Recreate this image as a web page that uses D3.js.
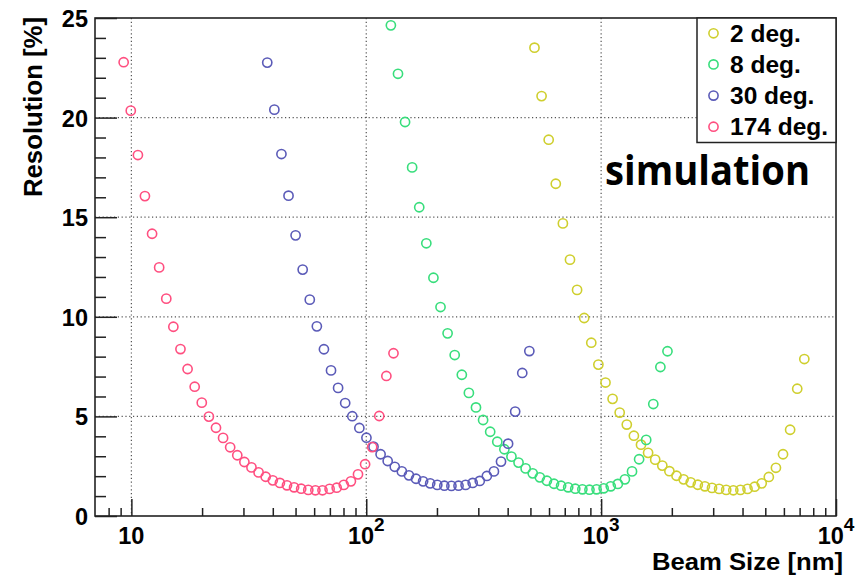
<!DOCTYPE html>
<html>
<head>
<meta charset="utf-8">
<script src="https://cdn.jsdelivr.net/npm/d3@7"></script>
<style>
  html, body { margin: 0; padding: 0; background: #fff; }
  svg { display: block; }
</style>
</head>
<body>
<svg id="chart" width="867" height="576"></svg>
<script>
// ---------------- data ----------------
const seriesNames = ["2 deg.", "8 deg.", "30 deg.", "174 deg."];
const seriesColors = ["#cfcf2e", "#38de7c", "#5b5bb8", "#ff4f80"];

const beam2 = [520.3, 557.8, 598.0, 641.1, 687.3, 736.9, 790.0, 847.0, 908.0, 973.5,
  1043.7, 1118.9, 1199.6, 1286.1, 1378.8, 1478.2, 1584.8, 1699.1, 1821.6, 1952.9,
  2093.7, 2244.6, 2406.4, 2579.9, 2765.9, 2965.3, 3179.1, 3408.4, 3654.1, 3917.6,
  4200.1, 4502.9, 4827.6, 5175.7, 5548.9, 5949.0, 6377.9, 6837.7, 7330.6];
const res2 = [23.51, 21.08, 18.89, 16.68, 14.69, 12.87, 11.35, 9.94, 8.70, 7.60,
  6.70, 5.88, 5.19, 4.59, 4.03, 3.58, 3.17, 2.83, 2.53, 2.25,
  2.02, 1.84, 1.69, 1.57, 1.49, 1.41, 1.36, 1.31, 1.29, 1.31,
  1.36, 1.47, 1.64, 1.96, 2.42, 3.10, 4.33, 6.39, 7.88];

const beam8 = [127.3, 136.5, 146.3, 156.8, 168.1, 180.2, 193.2, 207.1, 222.0, 238.0,
  255.2, 273.5, 293.2, 314.4, 337.0, 361.3, 387.3, 415.1, 445.0, 477.1,
  511.4, 548.3, 587.7, 630.0, 675.4, 724.0, 776.2, 832.1, 892.0, 956.2,
  1025.0, 1098.8, 1177.9, 1262.7, 1353.7, 1451.1, 1555.6, 1667.6, 1787.7, 1916.4];
const res8 = [24.63, 22.20, 19.78, 17.50, 15.50, 13.69, 11.96, 10.49, 9.17, 8.08,
  7.09, 6.18, 5.45, 4.82, 4.23, 3.73, 3.35, 2.98, 2.68, 2.39,
  2.14, 1.94, 1.77, 1.62, 1.52, 1.44, 1.37, 1.34, 1.32, 1.34,
  1.39, 1.49, 1.61, 1.84, 2.24, 2.85, 3.82, 5.62, 7.48, 8.27];

const beam30 = [37.89, 40.62, 43.54, 46.67, 50.02, 53.62, 57.48, 61.61, 66.04, 70.79,
  75.88, 81.34, 87.19, 93.46, 100.18, 107.38, 115.10, 123.38, 132.25, 141.76,
  151.96, 162.88, 174.60, 187.15, 200.61, 215.03, 230.49, 247.07, 264.83, 283.87,
  304.28, 326.16, 349.61, 374.75, 401.70, 430.58, 461.54, 494.73];
const res30 = [22.76, 20.40, 18.17, 16.08, 14.09, 12.37, 10.86, 9.52, 8.37, 7.31,
  6.43, 5.67, 5.01, 4.42, 3.93, 3.48, 3.10, 2.76, 2.47, 2.24,
  2.04, 1.87, 1.74, 1.64, 1.56, 1.52, 1.51, 1.52, 1.56, 1.66,
  1.76, 2.01, 2.24, 2.73, 3.63, 5.24, 7.18, 8.28];

const beam174 = [9.27, 9.94, 10.66, 11.42, 12.25, 13.13, 14.08, 15.09, 16.18, 17.35,
  18.60, 19.94, 21.38, 22.92, 24.57, 26.34, 28.24, 30.28, 32.46, 34.80,
  37.31, 40.00, 42.88, 45.97, 49.29, 52.84, 56.65, 60.74, 65.11, 69.81,
  74.84, 80.24, 86.02, 92.23, 98.88, 106.0, 113.6, 121.8, 130.6];
const res174 = [22.78, 20.35, 18.12, 16.06, 14.17, 12.48, 10.91, 9.50, 8.38, 7.38,
  6.49, 5.69, 4.99, 4.43, 3.92, 3.45, 3.05, 2.71, 2.44, 2.19,
  1.97, 1.79, 1.66, 1.54, 1.44, 1.37, 1.31, 1.29, 1.29, 1.36,
  1.42, 1.56, 1.74, 2.09, 2.60, 3.46, 5.02, 7.03, 8.17];

const xMajorTicks = [10, 100, 1000, 10000];
const xMajorBase = ["10", "10", "10", "10"];
const xMajorExp = ["", "2", "3", "4"];
const xMinorTicks = [8, 9, 20, 30, 40, 50, 60, 70, 80, 90,
  200, 300, 400, 500, 600, 700, 800, 900,
  2000, 3000, 4000, 5000, 6000, 7000, 8000, 9000];
const yMajorTicks = [0, 5, 10, 15, 20, 25];
const yMinorTicks = [1, 2, 3, 4, 6, 7, 8, 9, 11, 12, 13, 14, 16, 17, 18, 19, 21, 22, 23, 24];
const yGridTicks = [5, 10, 15, 20];
const xGridTicks = [10, 100, 1000];

const xTitle = "Beam Size [nm]";
const yTitle = "Resolution [%]";
const annotation = "simulation";

// ---------------- layout ----------------
const svg = d3.select("#chart");
const L = 95, R = 836, T = 18, B = 516;
const x = d3.scaleLog().domain([7, 10000]).range([L, R]);
const y = d3.scaleLinear().domain([0, 25]).range([B, T]);
const FONT = "'Liberation Sans', Arial, Helvetica, sans-serif";

svg.append("rect").attr("width", 867).attr("height", 576).attr("fill", "#fff");

// grid
const grid = svg.append("g").attr("stroke", "#555").attr("stroke-width", 1.2)
  .attr("stroke-dasharray", "1.2,2.6");
grid.selectAll("line.gx").data(xGridTicks).join("line")
  .attr("x1", d => x(d)).attr("x2", d => x(d)).attr("y1", T).attr("y2", B);
grid.selectAll("line.gy").data(yGridTicks).join("line")
  .attr("x1", L).attr("x2", R).attr("y1", d => y(d)).attr("y2", d => y(d));

// axes (ticks pointing inward)
function styleAxis(g) {
  g.select(".domain").remove();
  g.selectAll(".tick line").attr("stroke", "#222").attr("stroke-width", 1.5);
}
svg.append("g").attr("transform", `translate(0,${B})`)
  .call(d3.axisBottom(x).tickValues(xMinorTicks).tickSize(-8).tickSizeOuter(0).tickFormat(""))
  .call(styleAxis);
svg.append("g").attr("transform", `translate(0,${B})`)
  .call(d3.axisBottom(x).tickValues(xMajorTicks).tickSize(-17).tickSizeOuter(0).tickFormat(""))
  .call(styleAxis);
svg.append("g").attr("transform", `translate(${L},0)`)
  .call(d3.axisLeft(y).tickValues(yMinorTicks).tickSize(-11).tickSizeOuter(0).tickFormat(""))
  .call(styleAxis);
const yAx = svg.append("g").attr("transform", `translate(${L},0)`)
  .call(d3.axisLeft(y).tickValues(yMajorTicks).tickSize(-22).tickSizeOuter(0).tickPadding(7))
  .call(styleAxis);
yAx.selectAll(".tick text").attr("font-family", FONT).attr("font-weight", "bold")
  .attr("font-size", 23.5).attr("fill", "#000").attr("dy", "0.36em");

// x tick labels with superscripts
const xl = svg.append("g").attr("font-family", FONT).attr("font-weight", "bold").attr("fill", "#000");
xMajorTicks.forEach((v, i) => {
  const t = xl.append("text").attr("x", x(v)).attr("y", 544)
    .attr("text-anchor", "middle").attr("font-size", 23.5);
  t.append("tspan").text(xMajorBase[i]);
  if (xMajorExp[i]) {
    t.append("tspan").attr("font-size", 19).attr("dy", -13).text(xMajorExp[i]);
  }
});

// frame
svg.append("rect").attr("x", L).attr("y", T).attr("width", R - L).attr("height", B - T)
  .attr("fill", "none").attr("stroke", "#222").attr("stroke-width", 1.6);

// titles
svg.append("text").attr("x", 652).attr("y", 570).attr("font-family", FONT)
  .attr("font-weight", "bold").attr("font-size", 23).attr("textLength", 191)
  .attr("lengthAdjust", "spacingAndGlyphs").text(xTitle);
svg.append("text").attr("transform", "translate(42,197) rotate(-90)")
  .attr("font-family", FONT).attr("font-weight", "bold").attr("font-size", 26)
  .attr("textLength", 180).attr("lengthAdjust", "spacingAndGlyphs").text(yTitle);

// data
const seriesData = [[beam2, res2], [beam8, res8], [beam30, res30], [beam174, res174]];
seriesData.forEach(([bx, ry], si) => {
  svg.append("g").selectAll("circle").data(bx.map((b, i) => [b, ry[i]])).join("circle")
    .attr("cx", d => x(d[0])).attr("cy", d => y(d[1])).attr("r", 4.6)
    .attr("fill", "none").attr("stroke", seriesColors[si]).attr("stroke-width", 1.6);
});

// legend
const lg = svg.append("g");
lg.append("rect").attr("x", 697).attr("y", T).attr("width", R - 697).attr("height", 124.5)
  .attr("fill", "#fff").attr("stroke", "#222").attr("stroke-width", 1.5);
const rowY = d3.scaleLinear().domain([0, 3]).range([33.3, 126.7]);
seriesNames.forEach((n, i) => {
  lg.append("circle").attr("cx", 713.5).attr("cy", rowY(i)).attr("r", 4.6)
    .attr("fill", "none").attr("stroke", seriesColors[i]).attr("stroke-width", 1.6);
  lg.append("text").attr("x", 730).attr("y", rowY(i) + 8.3).attr("font-family", FONT)
    .attr("font-weight", "bold").attr("font-size", 24.5).attr("fill", "#000").text(n);
});

// annotation
svg.append("text").attr("x", 605).attr("y", 185).attr("font-family", "'Open Sans', 'Noto Sans', sans-serif")
  .attr("font-weight", "bold").attr("font-size", 41).attr("textLength", 205)
  .attr("lengthAdjust", "spacingAndGlyphs").attr("fill", "#000").text(annotation);
</script>
</body>
</html>
